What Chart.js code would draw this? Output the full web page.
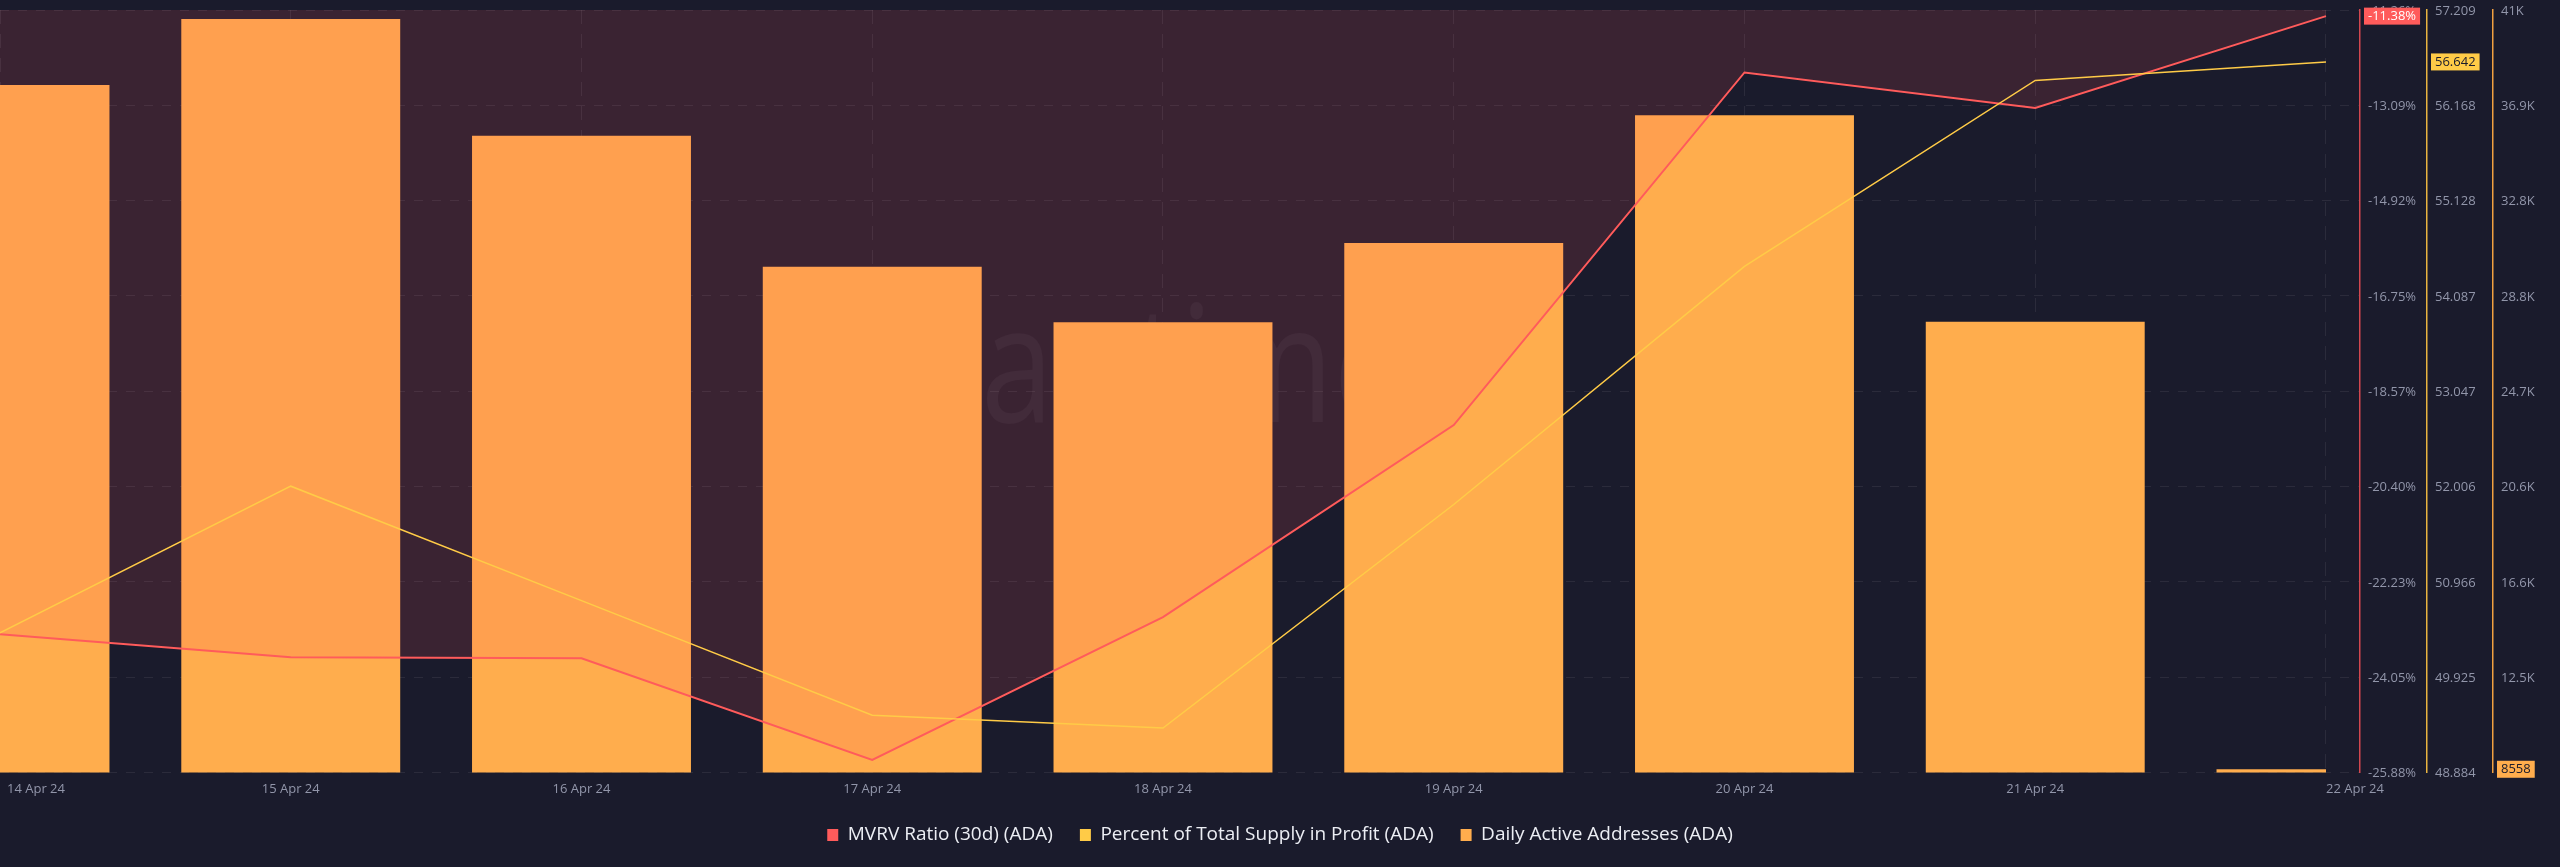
<!DOCTYPE html>
<html>
<head>
<meta charset="utf-8">
<script src="https://cdn.jsdelivr.net/npm/chart.js@4.4.1/dist/chart.umd.min.js"></script>
<style>
html, body { margin: 0; padding: 0; background: #1a1b2c; }
canvas { display: block; }
</style>
</head>
<body>
<canvas id="c" width="2560" height="867"></canvas>
<script>
// ---- data ----
const dates = ['14 Apr 24', '15 Apr 24', '16 Apr 24', '17 Apr 24', '18 Apr 24', '19 Apr 24', '20 Apr 24', '21 Apr 24', '22 Apr 24'];
const mvrvValues = [-23.23, -23.67, -23.69, -25.64, -22.90, -19.22, -12.46, -13.14, -11.38];
const profitValues = [50.41, 52.01, 50.76, 49.51, 49.37, 51.81, 54.41, 56.44, 56.642];
const daaValues = [37776, 40594, 35611, 30018, 27644, 31030, 36482, 27669, 8558];

const seriesNames = ['MVRV Ratio (30d) (ADA)', 'Percent of Total Supply in Profit (ADA)', 'Daily Active Addresses (ADA)'];

const mvrvTickLabels = ['-25.88%', '-24.05%', '-22.23%', '-20.40%', '-18.57%', '-16.75%', '-14.92%', '-13.09%', '-11.26%'];
const profitTickLabels = ['48.884', '49.925', '50.966', '52.006', '53.047', '54.087', '55.128', '56.168', '57.209'];
const daaTickLabels = ['8.4K', '12.5K', '16.6K', '20.6K', '24.7K', '28.8K', '32.8K', '36.9K', '41K'];

const mvrvRange = [-25.88, -11.2625];
const profitRange = [48.884, 57.209];
const daaRange = [8420, 40980];

const lastValueTags = ['-11.38%', '56.642', '8558'];

// ---- styles ----
const RED = '#ff5b5b', YELLOW = '#ffcb47', ORANGE = '#ffad4d';
const FONT = '"Open Sans", "Liberation Sans", sans-serif';
const TICK_COLOR = '#9296aa';
const GRID = 'rgba(255,255,255,0.075)';

function toPoints(vals) { return vals.map((v, i) => ({ x: i, y: v })); }

function fixedTicks(labels, range) {
  return function (scale) {
    const n = labels.length - 1;
    scale.ticks = labels.map((_, i) => ({ value: range[0] + i * (range[1] - range[0]) / n }));
  };
}

function rightAxis(labels, range, weight, borderColor, width, showGrid) {
  return {
    type: 'linear',
    position: 'right',
    weight: weight,
    min: range[0],
    max: range[1],
    afterBuildTicks: fixedTicks(labels, range),
    afterFit: (s) => { s.width = width; s.paddingTop = 0; s.paddingBottom = 0; },
    ticks: {
      callback: (v, i) => labels[i],
      color: TICK_COLOR,
      font: { family: FONT, size: 13 },
      padding: 8,
      labelOffset: 1
    },
    grid: { display: showGrid, color: GRID, drawTicks: false },
    border: { display: true, color: borderColor, width: 1.5, dash: [9, 9] }
  };
}

const decor = {
  id: 'decor',
  beforeDatasetsDraw(chart) {
    const { ctx, chartArea: a } = chart;
    ctx.save();
    ctx.beginPath();
    ctx.rect(a.left, a.top, a.right - a.left, a.bottom - a.top);
    ctx.clip();
    ctx.translate(a.left + 0.5195 * (a.right - a.left), a.top + 0.5407 * (a.bottom - a.top));
    ctx.scale(0.8, 1);
    ctx.font = '163px ' + FONT;
    ctx.textAlign = 'center';
    ctx.textBaseline = 'alphabetic';
    ctx.fillStyle = 'rgba(255,255,255,0.045)';
    ctx.fillText('santiment', 0, 0);
    ctx.restore();
  },
  afterDraw(chart) {
    const { ctx, chartArea: a } = chart;
    ctx.save();
    // x labels
    const xs = chart.scales.x;
    ctx.font = '13px ' + FONT;
    ctx.fillStyle = TICK_COLOR;
    ctx.textBaseline = 'middle';
    ctx.textAlign = 'left';
    dates.forEach((d, i) => {
      const px = xs.getPixelForValue(i);
      const w = ctx.measureText(d).width;
      let left = px - w / 2;
      if (i === dates.length - 1) left = px;
      left = Math.max(left, a.left + 7);
      ctx.fillText(d, left, a.bottom + 17);
    });
    // last-value tags
    const tags = [
      ['yMvrv', mvrvValues, RED, '#ffffff'],
      ['yProfit', profitValues, YELLOW, '#1a1b2c'],
      ['yDaa', daaValues, ORANGE, '#1a1b2c']
    ];
    tags.forEach(([id, vals, bg, fg], k) => {
      const sc = chart.scales[id];
      const py = sc.getPixelForValue(vals[vals.length - 1]);
      const txt = lastValueTags[k];
      ctx.font = '13px ' + FONT;
      const w = ctx.measureText(txt).width + 8;
      const h = 17;
      const x = sc.left + 4;
      ctx.fillStyle = bg;
      ctx.fillRect(x, py - h / 2, w, h);
      ctx.fillStyle = fg;
      ctx.textAlign = 'left';
      ctx.textBaseline = 'middle';
      ctx.fillText(txt, x + 4, py + 0.5);
    });
    ctx.restore();
  }
};

const legendColors = [RED, YELLOW, ORANGE];

new Chart(document.getElementById('c'), {
  type: 'bar',
  data: {
    datasets: [
      {
        type: 'line',
        label: seriesNames[0],
        data: toPoints(mvrvValues),
        yAxisID: 'yMvrv',
        borderColor: RED,
        borderWidth: 2,
        backgroundColor: 'rgba(255,85,93,0.14)',
        fill: 'end',
        pointRadius: 0,
        tension: 0,
        order: 1
      },
      {
        type: 'line',
        label: seriesNames[1],
        data: toPoints(profitValues),
        yAxisID: 'yProfit',
        borderColor: YELLOW,
        borderWidth: 1.5,
        backgroundColor: YELLOW,
        fill: false,
        pointRadius: 0,
        tension: 0,
        order: 0
      },
      {
        type: 'bar',
        label: seriesNames[2],
        data: toPoints(daaValues),
        yAxisID: 'yDaa',
        backgroundColor: ORANGE,
        borderWidth: 0,
        barPercentage: 1,
        categoryPercentage: 0.753,
        clip: { left: 0, top: 0, right: -34, bottom: 0 },
        order: 2
      }
    ]
  },
  options: {
    responsive: false,
    animation: false,
    devicePixelRatio: 1,
    layout: { padding: { top: 10, left: 0, right: 0, bottom: 12.5 } },
    scales: {
      x: {
        type: 'linear',
        min: 0,
        max: 8.117,
        offset: false,
        afterBuildTicks: (s) => { s.ticks = dates.map((_, i) => ({ value: i })); },
        afterFit: (s) => { s.height = 26; s.paddingLeft = 0; s.paddingRight = 0; },
        ticks: { display: false },
        grid: { display: true, color: GRID, offset: false, drawTicks: false },
        border: { display: false, dash: [14, 10] }
      },
      yMvrv: rightAxis(mvrvTickLabels, mvrvRange, 0, '#d2474f', 67, true),
      yProfit: rightAxis(profitTickLabels, profitRange, 1, '#e8b440', 66, false),
      yDaa: rightAxis(daaTickLabels, daaRange, 2, '#f0a040', 67, false)
    },
    plugins: {
      tooltip: { enabled: false },
      legend: {
        position: 'bottom',
        align: 'center',
        labels: {
          color: '#eceef4',
          font: { family: FONT, size: 19 },
          boxWidth: 11,
          boxHeight: 12,
          padding: 27,
          sort: (a, b) => a.datasetIndex - b.datasetIndex,
          generateLabels(chart) {
            const items = Chart.defaults.plugins.legend.labels.generateLabels(chart);
            items.forEach((it) => {
              it.fillStyle = legendColors[it.datasetIndex];
              it.strokeStyle = legendColors[it.datasetIndex];
              it.lineWidth = 0;
              it.lineDash = [];
            });
            return items;
          }
        }
      }
    }
  },
  plugins: [decor]
});
</script>
</body>
</html>
